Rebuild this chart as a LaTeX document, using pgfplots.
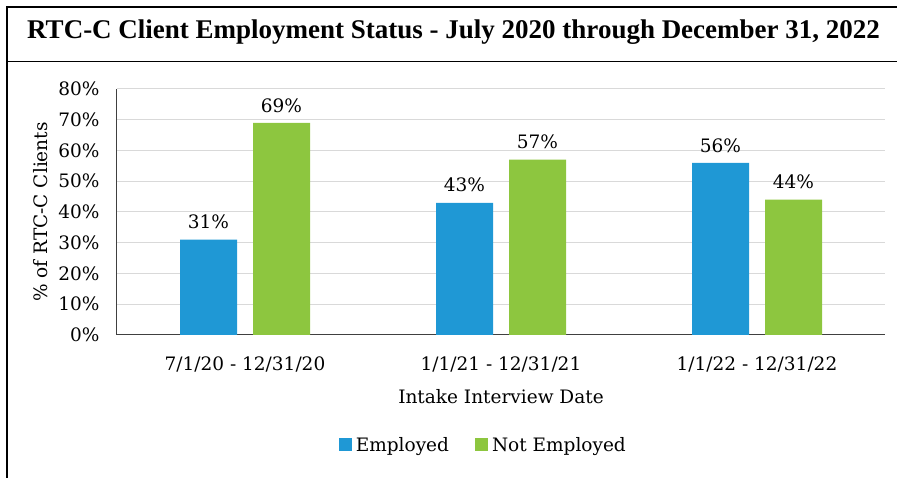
\documentclass[border=0pt]{standalone}
\usepackage{fontspec}
\setmainfont{DejaVu Serif}
\newfontfamily\titlefont{Liberation Serif}
\usepackage{pgfplots}
\pgfplotsset{compat=1.18}
\definecolor{empblue}{HTML}{1F98D5}
\definecolor{notgreen}{HTML}{8DC63F}
\definecolor{gridgray}{HTML}{D9D9D9}
\definecolor{axisgray}{HTML}{404040}

\begin{document}
\begin{tikzpicture}
\useasboundingbox (0,0) rectangle (897pt,478pt);
% frame round the title
\draw[line width=1.6pt] (7pt,0) -- (7pt,471pt) -- (900pt,471pt);
\draw[line width=1pt] (7pt,416pt) -- (900pt,416pt);
\node[anchor=west, inner sep=0pt, font=\titlefont\fontsize{27}{30}\selectfont\bfseries]
  at (27pt,446pt) {RTC-C Client Employment Status - July 2020 through December 31, 2022};

\begin{axis}[
    at={(117pt,143pt)}, anchor=south west,
    scale only axis, width=768pt, height=246pt,
    ybar=16pt, bar width=57pt,
    xmin=-0.5, xmax=2.5, ymin=0, ymax=80,
    xtick={0,1,2},
    xticklabels={7/1/20 - 12/31/20, 1/1/21 - 12/31/21, 1/1/22 - 12/31/22},
    ytick={0,10,...,80},
    yticklabel={\pgfmathprintnumber{\tick}\%},
    /pgf/number format/assume math mode=true,
    axis x line*=bottom, axis y line*=left,
    axis line style={-, axisgray, line width=1pt},
    major tick length=0pt,
    ymajorgrids, grid style={gridgray, line width=1pt},
    ticklabel style={font=\fontsize{18.5}{21}\selectfont},
    yticklabel style={xshift=-14pt},
    xticklabel style={yshift=-18pt},
    xlabel={Intake Interview Date},
    ylabel={\% of RTC-C Clients},
    label style={font=\fontsize{18.5}{21}\selectfont},
    xlabel style={at={(axis description cs:0.5,-0.25)}, anchor=center},
    ylabel style={at={(axis description cs:-0.1,0.5)}, anchor=center},
    nodes near coords={\pgfmathprintnumber{\pgfplotspointmeta}\%},
    nodes near coords style={font=\fontsize{18.5}{21}\selectfont, yshift=7pt},
    legend style={at={(0.477,-0.447)}, anchor=center, draw=none,
        legend columns=2, font=\fontsize{18.5}{21}\selectfont,
        /tikz/every odd column/.append style={column sep=2pt},
        /tikz/every even column/.append style={column sep=24pt}},
    legend image code/.code={\fill[#1] (0pt,-6.5pt) rectangle (13pt,6.5pt);},
]
\addplot[fill=empblue, draw=none] coordinates {(0,31) (1,43) (2,56)};
\addlegendentry{Employed}
\addplot[fill=notgreen, draw=none] coordinates {(0,69) (1,57) (2,44)};
\addlegendentry{Not Employed}
\end{axis}
\end{tikzpicture}
\end{document}
